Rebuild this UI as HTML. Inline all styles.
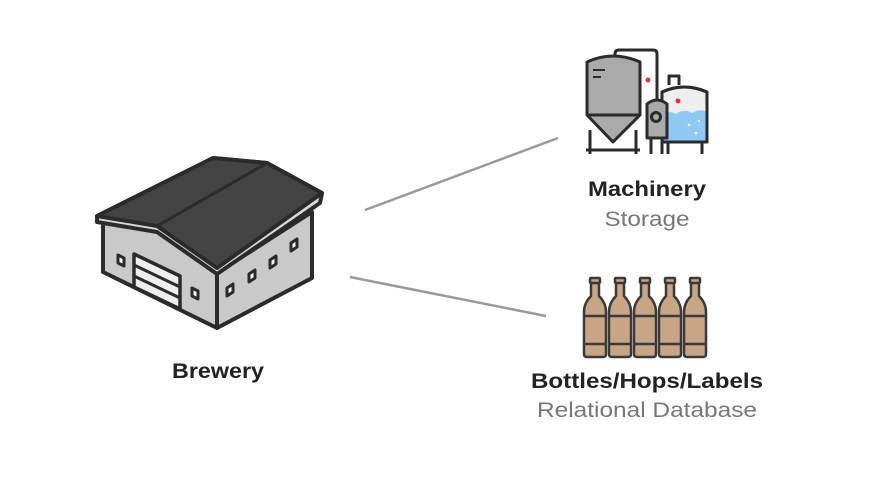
<!DOCTYPE html>
<html><head><meta charset="utf-8"><style>
html,body{margin:0;padding:0;background:#fff;}
svg{display:block;}
text{font-family:"Liberation Sans",Arial,sans-serif;}
</style></head><body>
<svg width="880" height="484" viewBox="0 0 880 484" xmlns="http://www.w3.org/2000/svg">
<rect width="880" height="484" fill="#fff"/>
<!-- connectors -->
<line x1="365" y1="210" x2="558" y2="138" stroke="#999" stroke-width="2.5"/>
<line x1="350" y1="277" x2="546" y2="316" stroke="#999" stroke-width="2.5"/>

<!-- Building -->
<g stroke="#2b2b2b" stroke-width="4" stroke-linejoin="round">
  <polygon points="103,222 103,272 217,328 217,268 157,228" fill="#c9c9c9"/>
  <polygon points="217,273 312,212 312,278 217,328" fill="#c9c9c9"/>
  <polygon points="97,216 97,222 157,232 217,274 320,203 322,193 267,163 213,158" fill="#d8d8d8"/>
  <polygon points="97,216 213,158 267,163 322,193 217,268 157,226" fill="#444"/>
  <line x1="267" y1="163" x2="157" y2="226" stroke-width="3"/>
  <polygon points="134,254 180,276 180,309 134,287" fill="#eee" stroke-width="3.5"/>
  <line x1="134" y1="265" x2="180" y2="287" stroke-width="3"/>
  <line x1="134" y1="276" x2="180" y2="298" stroke-width="3"/>
  <g fill="#fff" stroke-width="3">
    <polygon points="118,255 124,258 124,266 118,263"/>
    <polygon points="192,288 198,291 198,299 192,296"/>
    <polygon points="227,288 233,284 233,292 227,296"/>
    <polygon points="249,274 255,270 255,278 249,282"/>
    <polygon points="270,260 276,256 276,264 270,268"/>
    <polygon points="291,243 297,239 297,247 291,251"/>
  </g>
</g>

<!-- Machinery -->
<g stroke="#2b2b2b" stroke-width="3" fill="none" stroke-linejoin="round">
  <path d="M615,57 V54 Q615,50 619,50 H653 Q657,50 657,54 V100"/>
  <line x1="590" y1="130" x2="590" y2="154"/>
  <line x1="636" y1="130" x2="636" y2="154"/>
  <line x1="586" y1="150" x2="640" y2="150"/>
  <path d="M587,115 V62 Q613,50 640,62 V115 L613,142 Z" fill="#aaa"/>
  <line x1="587" y1="115" x2="640" y2="115"/>
  <line x1="593" y1="70" x2="605" y2="70" stroke-width="2"/>
  <line x1="593" y1="77" x2="601" y2="77" stroke-width="2"/>
  <path d="M669,85 V76 H679 V85"/>
  <path d="M662,142 V92 Q684,82 707,92 V142 Z" fill="#eee"/>
  <path d="M662,115 Q670,110 676,114 Q684,108 692,113 Q700,108 707,112 V142 H662 Z" fill="#8fc8f2" stroke="none"/>
  <path d="M662,142 V92 Q684,82 707,92 V142 Z"/>
  <line x1="668" y1="142" x2="668" y2="154"/>
  <line x1="702" y1="142" x2="702" y2="154"/>
  <path d="M647,138 V104 Q657,96 667,104 V138 Z" fill="#aaa"/>
  <circle cx="656" cy="117" r="4.5" fill="#aaa"/>
  <line x1="651" y1="138" x2="651" y2="154"/>
  <line x1="662" y1="138" x2="662" y2="154"/>
</g>
<circle cx="648" cy="80" r="2.5" fill="#d33"/>
<circle cx="678" cy="101" r="2.5" fill="#d33"/>
<circle cx="689" cy="125" r="1.3" fill="#fff"/><circle cx="696" cy="133" r="1.3" fill="#fff"/><circle cx="699" cy="121" r="1" fill="#fff"/>

<!-- Bottles -->
<g stroke="#3a3a3a" stroke-width="2.5" fill="#c8a585" stroke-linejoin="round">
  <g id="b">
    <path d="M591,282 V296 Q584,303 584,312 V354 Q584,357 587,357 H603 Q606,357 606,354 V312 Q606,303 599,296 V282 Z"/>
    <rect x="590" y="278" width="10" height="5" rx="1"/>
    <line x1="584" y1="316" x2="606" y2="316"/>
    <line x1="584" y1="344" x2="606" y2="344"/>
  </g>
  <use href="#b" x="25"/><use href="#b" x="50"/><use href="#b" x="75"/><use href="#b" x="100"/>
</g>

<!-- Labels -->
<text x="218" y="378" text-anchor="middle" font-size="21" font-weight="bold" fill="#222" textLength="92" lengthAdjust="spacingAndGlyphs">Brewery</text>
<text x="647" y="196" text-anchor="middle" font-size="21" font-weight="bold" fill="#222" textLength="118" lengthAdjust="spacingAndGlyphs">Machinery</text>
<text x="647" y="226" text-anchor="middle" font-size="21" fill="#777" textLength="85" lengthAdjust="spacingAndGlyphs">Storage</text>
<text x="647" y="388" text-anchor="middle" font-size="21" font-weight="bold" fill="#222" textLength="232" lengthAdjust="spacingAndGlyphs">Bottles/Hops/Labels</text>
<text x="647" y="417" text-anchor="middle" font-size="21" fill="#777" textLength="220" lengthAdjust="spacingAndGlyphs">Relational Database</text>
</svg>
</body></html>
